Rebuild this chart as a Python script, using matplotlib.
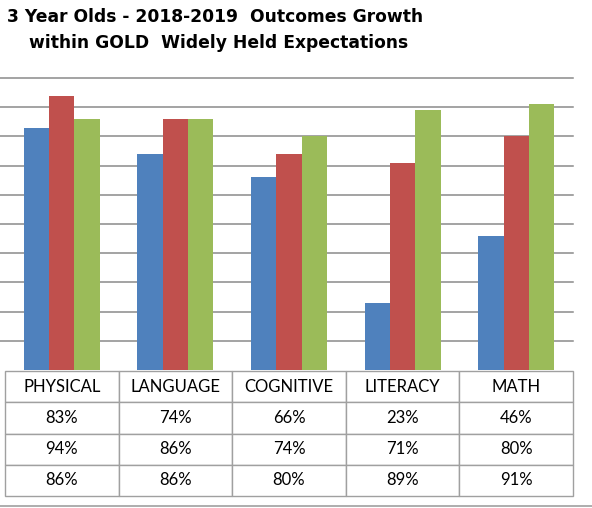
import numpy as np
import matplotlib
matplotlib.use('Agg')
import matplotlib.pyplot as plt
from matplotlib.lines import Line2D

# data
categories = ['PHYSICAL', 'LANGUAGE', 'COGNITIVE', 'LITERACY', 'MATH']
fall = [83, 74, 66, 23, 46]
winter = [94, 86, 74, 71, 80]
spring = [86, 86, 80, 89, 91]
series = [fall, winter, spring]
colors = ['#4F81BD', '#C0504D', '#9BBB59']

W, H = 592, 508
fig = plt.figure(figsize=(W / 100, H / 100), dpi=100)

# plot area in pixels: x 0..573, y 78..370 (left part of the chart is cropped)
ax = fig.add_axes([0 / W, (H - 370) / H, 573 / W, 292 / H])

x = np.arange(len(categories))
bw = 0.223
for i, (vals, c) in enumerate(zip(series, colors)):
    ax.bar(x + (i - 1) * bw, vals, width=bw, color=c, zorder=3)

# first category starts 5px right of the axes edge
ax.set_xlim(-0.5 - 5 / 113.6, len(categories) - 0.5)
ax.set_ylim(0, 100)
# gridlines every 10%, drawn unclipped so the top one is full width
for yv in np.arange(10, 101, 10):
    ax.axhline(yv, color='#8a8a8a', linewidth=1.1, zorder=0, clip_on=False)
ax.tick_params(left=False, bottom=False, labelleft=False, labelbottom=False)
for s in ax.spines.values():
    s.set_visible(False)

# data table under the bars
cell_text = [['{}%'.format(v) for v in row] for row in series]
tbl = ax.table(cellText=cell_text, colLabels=categories, cellLoc='center',
               bbox=[5 / 573, -126 / 292, 568 / 573, 125 / 292])
tbl.auto_set_font_size(False)
for (r, c), cell in tbl.get_celld().items():
    cell.set_edgecolor('#a0a0a0')
    cell.set_linewidth(1.0)
    cell.get_text().set_fontsize(12)
    cell.get_text().set_fontfamily('Lato')

# chart border line at the bottom
fig.add_artist(Line2D([0, 1], [(H - 506) / H] * 2, color='#a0a0a0', linewidth=1.2,
                      transform=fig.transFigure))

fig.text(215 / W, 1 - 17 / H, '3 Year Olds - 2018-2019  Outcomes Growth',
         ha='center', va='center', fontsize=12.3, fontweight='bold', family='DejaVu Sans')
fig.text(219 / W, 1 - 43 / H, 'within GOLD  Widely Held Expectations',
         ha='center', va='center', fontsize=12.3, fontweight='bold', family='DejaVu Sans')

fig.savefig('out.png', dpi=100)
